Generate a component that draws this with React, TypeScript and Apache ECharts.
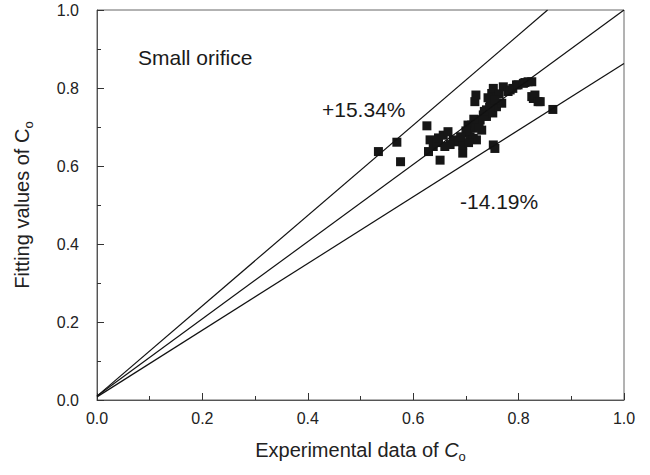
import React, { useEffect, useRef } from "react";
import * as echarts from "echarts";

const FONT = "'Liberation Sans', Arial, sans-serif";

// Experimental data of Co (x) and fitting values of Co (y)
const expX = [
  0.534, 0.569, 0.576, 0.626, 0.629, 0.632, 0.638, 0.651, 0.657, 0.66,
  0.666, 0.676, 0.685, 0.694, 0.694, 0.704, 0.704, 0.708, 0.711, 0.714,
  0.714, 0.717, 0.717, 0.719, 0.72, 0.72, 0.723, 0.727, 0.73, 0.733,
  0.739, 0.739, 0.746, 0.749, 0.751, 0.752, 0.752, 0.755, 0.758, 0.758,
  0.768, 0.771, 0.78, 0.784, 0.789, 0.796, 0.799, 0.809, 0.812, 0.818,
  0.825, 0.825, 0.828, 0.831, 0.837, 0.841, 0.865, 0.645, 0.648, 0.67,
  0.7, 0.69, 0.725, 0.735, 0.745, 0.742, 0.763, 0.755, 0.705, 0.715,
];
const fitY = [
  0.637, 0.661, 0.611, 0.703, 0.637, 0.667, 0.65, 0.615, 0.679, 0.65,
  0.688, 0.667, 0.662, 0.633, 0.654, 0.705, 0.684, 0.675, 0.705, 0.697,
  0.671, 0.701, 0.765, 0.782, 0.709, 0.667, 0.718, 0.718, 0.692, 0.731,
  0.744, 0.727, 0.769, 0.786, 0.736, 0.799, 0.654, 0.645, 0.761, 0.752,
  0.761, 0.803, 0.791, 0.795, 0.799, 0.808, 0.808, 0.812, 0.814, 0.816,
  0.816, 0.778, 0.773, 0.782, 0.765, 0.765, 0.745, 0.66, 0.672, 0.655,
  0.69, 0.675, 0.7, 0.74, 0.75, 0.775, 0.785, 0.77, 0.66, 0.72,
];

// Reference lines (endpoints)
const upperLine = [[0, 0.01], [0.855, 1.0]]; // +15.34%
const middleLine = [[0, 0.01], [1.0, 1.0]];
const lowerLine = [[0, 0.008], [1.0, 0.863]]; // -14.19%

const xTickLabels = ["0.0", "0.2", "0.4", "0.6", "0.8", "1.0"];
const yTickLabels = ["0.0", "0.2", "0.4", "0.6", "0.8", "1.0"];

export default function App() {
  const ref = useRef<HTMLDivElement>(null);
  useEffect(() => {
    if (!ref.current) return;
    const chart = echarts.init(ref.current, null, { renderer: "svg" });
    const points = expX.map((x, i) => [x, fitY[i]]);
    const lineStyle = { color: "#111", width: 1.2 };
    const axisCommon = {
      type: "value" as const,
      min: 0,
      max: 1,
      interval: 0.2,
      axisLine: { show: true, onZero: false, lineStyle: { color: "#555", width: 1 } },
      axisTick: { show: true, inside: true, length: 7, lineStyle: { color: "#333" } },
      minorTick: { show: true, splitNumber: 2, length: 4, lineStyle: { color: "#333" } },
      splitLine: { show: false },
      nameLocation: "middle" as const,
    };
    chart.setOption({
      animation: false,
      grid: {
        left: 97,
        right: 26,
        top: 10,
        bottom: 75,
        show: true,
        borderColor: "#666",
        borderWidth: 1,
      },
      xAxis: {
        ...axisCommon,
        axisLabel: {
          fontSize: 16,
          fontFamily: FONT,
          color: "#222",
          margin: 10,
          formatter: (v: number) => xTickLabels[Math.round(v / 0.2)] ?? "",
        },
        name: "Experimental data of {i|C}{s|o}",
        nameGap: 36,
        nameTextStyle: {
          fontSize: 20,
          fontFamily: FONT,
          color: "#222",
          rich: {
            i: { fontSize: 20, fontFamily: FONT, fontStyle: "italic", color: "#222" },
            s: { fontSize: 13, fontFamily: FONT, color: "#222", verticalAlign: "bottom", padding: [14, 0, 0, 0] },
          },
        },
      },
      yAxis: {
        ...axisCommon,
        axisLabel: {
          fontSize: 16,
          fontFamily: FONT,
          color: "#222",
          margin: 18,
          formatter: (v: number) => yTickLabels[Math.round(v / 0.2)] ?? "",
        },
        name: "Fitting values of {i|C}{s|o}",
        nameGap: 62,
        nameTextStyle: {
          fontSize: 20,
          fontFamily: FONT,
          color: "#222",
          rich: {
            i: { fontSize: 20, fontFamily: FONT, color: "#222" },
            s: { fontSize: 13, fontFamily: FONT, color: "#222", verticalAlign: "bottom", padding: [14, 0, 0, 0] },
          },
        },
      },
      series: [
        { type: "line", data: upperLine, symbol: "none", lineStyle, silent: true },
        { type: "line", data: middleLine, symbol: "none", lineStyle, silent: true },
        { type: "line", data: lowerLine, symbol: "none", lineStyle, silent: true },
        {
          type: "scatter",
          data: points,
          symbol: "rect",
          symbolSize: 9,
          itemStyle: { color: "#161616", opacity: 1 },
        },
      ],
      graphic: [
        { type: "text", x: 138, y: 57, style: { text: "Small orifice", fontSize: 21, fontFamily: FONT, fill: "#1a1a1a", verticalAlign: "middle" } },
        { type: "text", x: 322, y: 109, style: { text: "+15.34%", fontSize: 21, fontFamily: FONT, fill: "#1a1a1a", verticalAlign: "middle" } },
        { type: "text", x: 460, y: 201, style: { text: "-14.19%", fontSize: 21, fontFamily: FONT, fill: "#1a1a1a", verticalAlign: "middle" } },
      ],
    });
    return () => chart.dispose();
  }, []);
  return (
    <div
      ref={ref}
      style={{ position: "fixed", left: 0, top: 0, width: 650, height: 475, background: "#fff" }}
    />
  );
}
